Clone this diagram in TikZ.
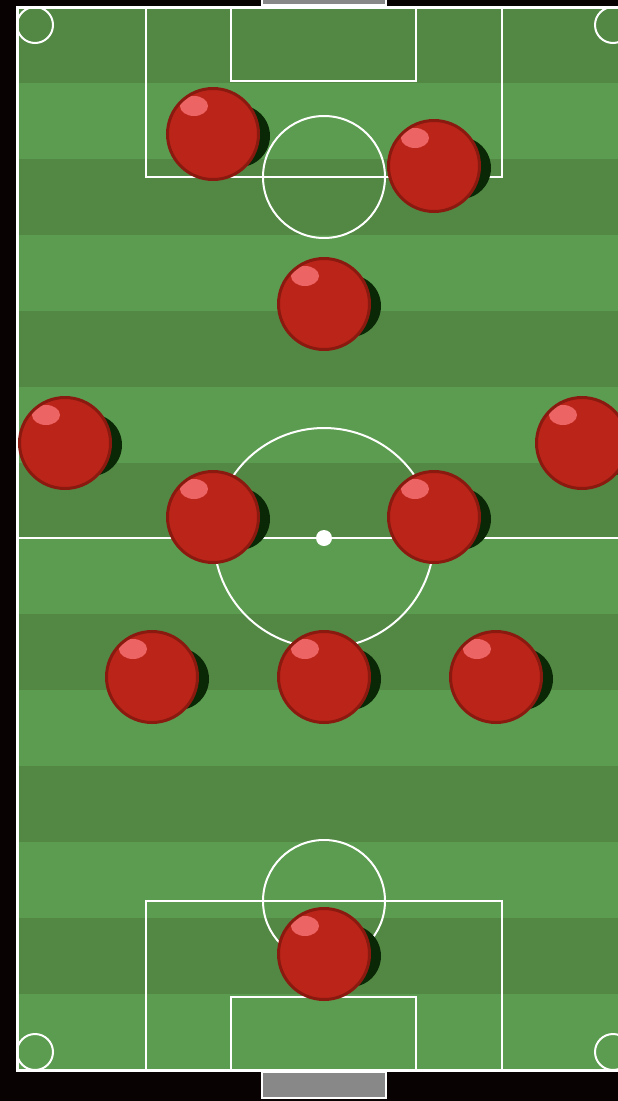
\documentclass[tikz,border=0pt]{standalone}
\usepackage{tikz}
\definecolor{pitchdark}{HTML}{528844}
\definecolor{pitchlight}{HTML}{5C9C50}
\definecolor{kitred}{HTML}{BB2419}
\definecolor{kitedge}{HTML}{8A1A10}
\definecolor{kitshine}{HTML}{EC6464}
\definecolor{turfshadow}{HTML}{0A2806}
\definecolor{goalgray}{HTML}{888888}
\definecolor{stand}{HTML}{080202}
\newcommand\StripeClr{pitchdark}

\begin{document}
\begin{tikzpicture}[x=1pt, y=-1pt,
  line/.style={white, line width=2pt},
  player/.style={circle, draw=kitedge, line width=3pt, fill=kitred, minimum size=91pt, inner sep=0pt,
    path picture={\fill[kitshine] ([xshift=-19pt, yshift=28pt]path picture bounding box.center) ellipse (14pt and 10pt);}}]
                \useasboundingbox (0,0) rectangle (618,1101);
                \fill[stand] (0,0) rectangle (618,1101);
                \clip (0,0) rectangle (618,1101);
                % goals
                \draw[line, fill=goalgray] (262,-20) rectangle (386,5);
                \draw[line, fill=goalgray] (262,1072) rectangle (386,1098);
                % grass stripes
                \foreach \s in {0,...,13}{
                  \ifodd\s
                      \renewcommand\StripeClr{pitchlight}
                  \else
                      \renewcommand\StripeClr{pitchdark}
                  \fi
                  \fill[\StripeClr] (17,7+\s*75.93) rectangle (631,7+\s*75.93+75.93);
                }
                % markings
                \draw[line, line width=3pt] (17,7) rectangle (631,1070);
                \draw[line] (17,538) -- (631,538);
                \draw[line] (324,538) circle (110pt);
                \fill[white] (324,538) circle (8pt);
                \draw[line] (146,7) rectangle (502,177);
                \draw[line] (231,7) rectangle (416,81);
                \draw[line] (324,177) circle (61pt);
                \draw[line] (146,1070) rectangle (502,901);
                \draw[line] (231,1070) rectangle (416,997);
                \draw[line] (324,901) circle (61pt);
                \foreach \cx/\cy in {35/25, 613/25, 35/1052, 613/1052}
                  \draw[line] (\cx,\cy) circle (18pt);
                % players
                \foreach \px/\py [count=\i] in {213/134, 434/166, 324/304, 65/443, 582/443, 213/517, 434/517, 152/677, 324/677, 496/677, 324/954}{
                  \fill[turfshadow] (\px+26,\py+2) circle (31pt);
                  \node[player] (p\i) at (\px,\py) {};
                }
            \end{tikzpicture}
\end{document}
